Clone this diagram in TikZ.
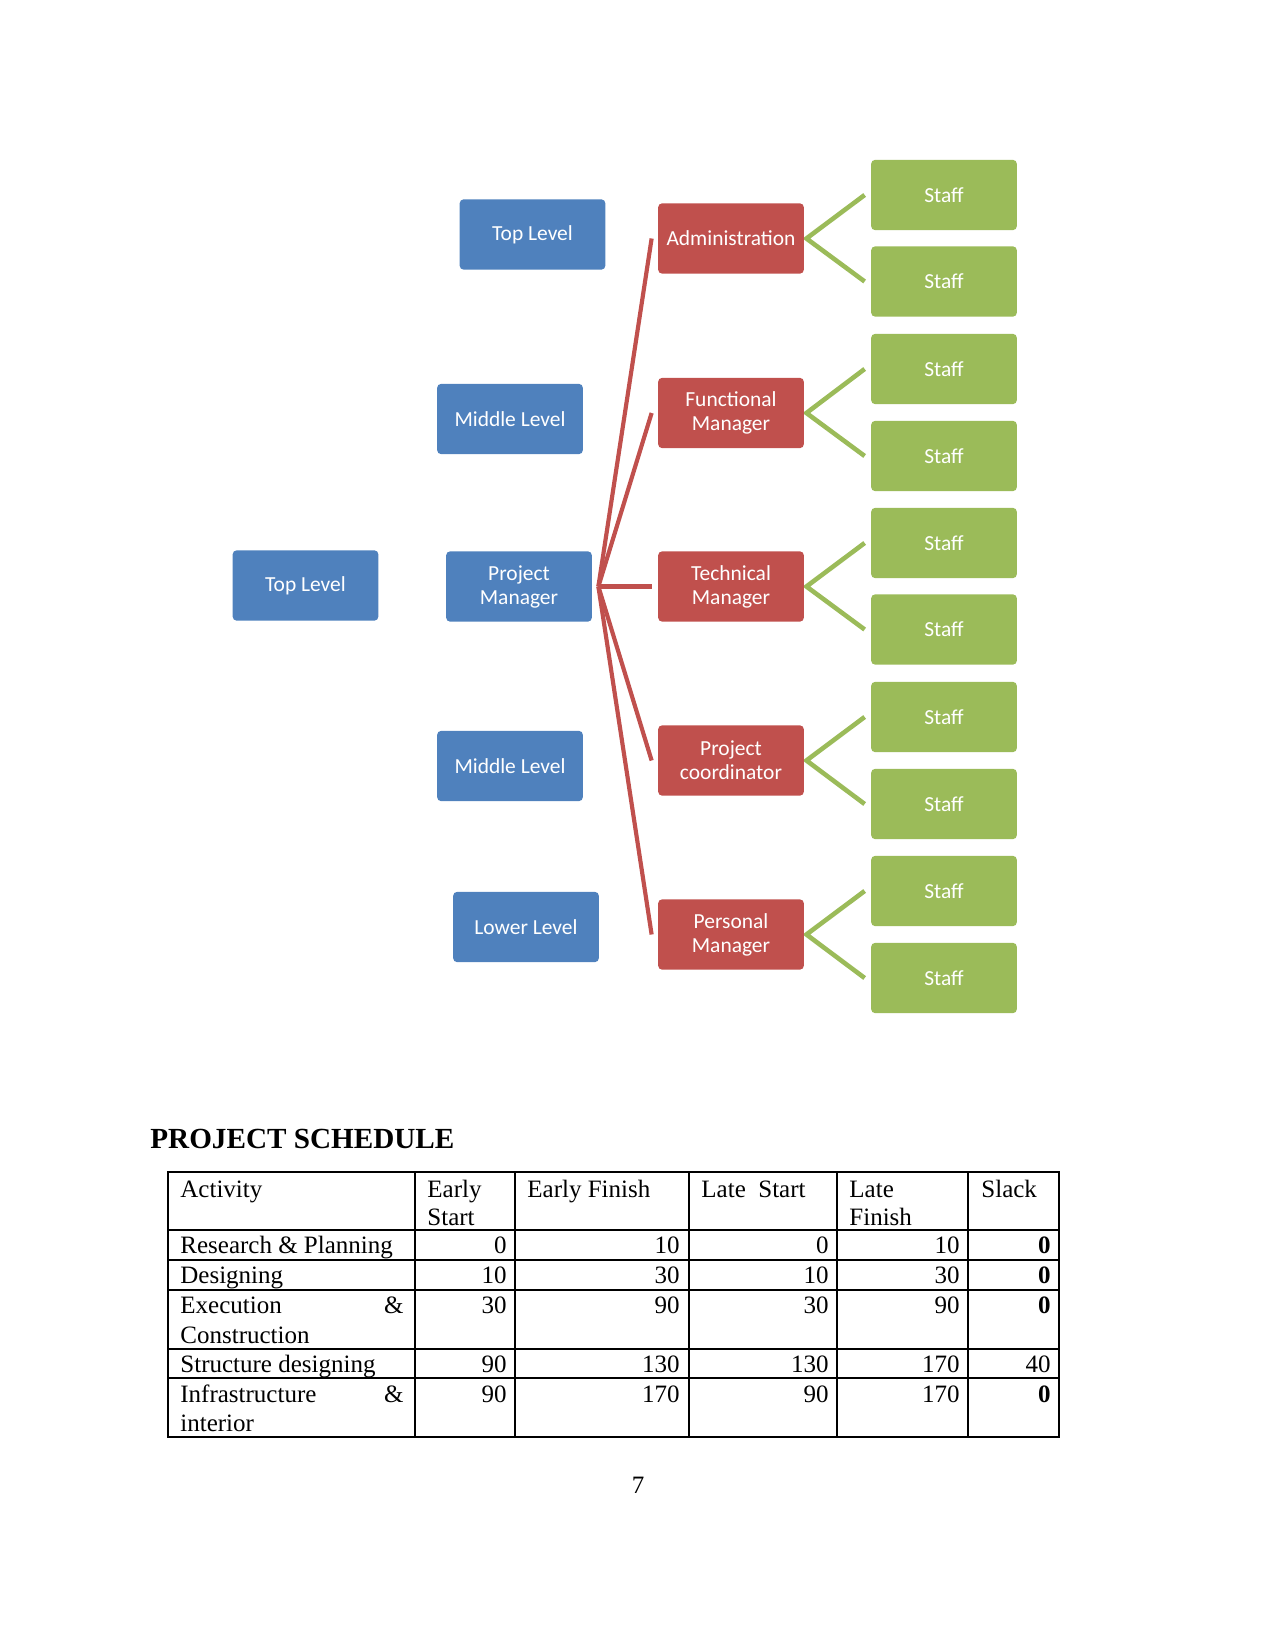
\documentclass[tikz,border=0pt]{standalone}
\usepackage{fontspec}
\setmainfont{Liberation Serif}
\newfontfamily\boxfont{Carlito}
\usetikzlibrary{backgrounds}
\definecolor{bbox}{RGB}{79,129,189}
\definecolor{rbox}{RGB}{192,80,77}
\definecolor{gbox}{RGB}{155,187,89}
\begin{document}
\begin{tikzpicture}[x=0.48pt,y=-0.48pt,
  box/.style={rectangle,rounded corners=2pt,minimum width=70pt,minimum height=33.8pt,inner sep=0pt,text=white,font=\boxfont\fontsize{10.3}{11.5}\selectfont,align=center},
  bluebox/.style={box,fill=bbox},
  redbox/.style={box,fill=rbox},
  greenbox/.style={box,fill=gbox},
  redline/.style={draw=rbox,line width=2pt},
  greenline/.style={draw=gbox,line width=2.2pt},
  cell/.style={inner sep=0pt,font=\fontsize{12}{13.8}\selectfont},
  grid/.style={line width=0.6pt}]
\useasboundingbox (0,0) rectangle (1275,1650);

% blue level boxes
\node[bluebox] (tl1) at (532.5,234.5) {Top Level};
\node[bluebox] (ml1) at (510,419) {Middle Level};
\node[bluebox] (tl2) at (305.5,585.5) {Top Level};
\node[bluebox] (pm)  at (519,586.5) {Project\\Manager};
\node[bluebox] (ml2) at (510,766) {Middle Level};
\node[bluebox] (ll)  at (526,927) {Lower Level};

% red boxes
\node[redbox] (adm)  at (731,238.5) {Administration};
\node[redbox] (fm)   at (731,413) {Functional\\Manager};
\node[redbox] (tm)   at (731,586.5) {Technical\\Manager};
\node[redbox] (pc)   at (731,760.5) {Project\\coordinator};
\node[redbox] (perm) at (731,934.5) {Personal\\Manager};

% green staff boxes
\node[greenbox] (s1)  at (944,195) {Staff};
\node[greenbox] (s2)  at (944,281.5) {Staff};
\node[greenbox] (s3)  at (944,369) {Staff};
\node[greenbox] (s4)  at (944,456) {Staff};
\node[greenbox] (s5)  at (944,543) {Staff};
\node[greenbox] (s6)  at (944,629.5) {Staff};
\node[greenbox] (s7)  at (944,717) {Staff};
\node[greenbox] (s8)  at (944,804) {Staff};
\node[greenbox] (s9)  at (944,891) {Staff};
\node[greenbox] (s10) at (944,978) {Staff};

\begin{scope}[on background layer]
  \foreach \r in {adm,fm,tm,pc,perm}
    \draw[redline] ([xshift=2.9pt]pm.east) -- ([xshift=-2.9pt]\r.west);
  \draw[greenline] ([xshift=-2.9pt]s1.west) -- ([xshift=1pt]adm.east) -- ([xshift=-2.9pt]s2.west);
  \draw[greenline] ([xshift=-2.9pt]s3.west) -- ([xshift=1pt]fm.east) -- ([xshift=-2.9pt]s4.west);
  \draw[greenline] ([xshift=-2.9pt]s5.west) -- ([xshift=1pt]tm.east) -- ([xshift=-2.9pt]s6.west);
  \draw[greenline] ([xshift=-2.9pt]s7.west) -- ([xshift=1pt]pc.east) -- ([xshift=-2.9pt]s8.west);
  \draw[greenline] ([xshift=-2.9pt]s9.west) -- ([xshift=1pt]perm.east) -- ([xshift=-2.9pt]s10.west);
\end{scope}

% heading
\node[inner sep=0pt,anchor=base west,font=\bfseries\fontsize{14}{16}\selectfont] (head) at (150,1148) {PROJECT SCHEDULE};

% table grid
\draw[grid] (168,1172) rectangle (1059,1437);
\foreach \xx in {415,515,689,837,968}
  \draw[grid] (\xx,1172) -- (\xx,1437);
\foreach \yy in {1230,1260,1290,1349,1378}
  \draw[grid] (168,\yy) -- (1059,\yy);

% header
\node[cell,anchor=base west] (h1) at (180,1197) {Activity};
\node[cell,anchor=base west] (h2a) at (427,1197) {Early};
\node[cell,anchor=base west] (h2b) at (427,1225) {Start};
\node[cell,anchor=base west] (h3) at (527,1197) {Early Finish};
\node[cell,anchor=base west] (h4) at (701,1197) {Late~~Start};
\node[cell,anchor=base west] (h5a) at (849,1197) {Late};
\node[cell,anchor=base west] (h5b) at (849,1225) {Finish};
\node[cell,anchor=base west] (h6) at (981,1197) {Slack};

% row 1
\node[cell,anchor=base west] (a1) at (180,1253) {Research \& Planning};
\node[cell,anchor=base east] (b1) at (507,1253) {0};
\node[cell,anchor=base east] (c1) at (680,1253) {10};
\node[cell,anchor=base east] (d1) at (829,1253) {0};
\node[cell,anchor=base east] (e1) at (960,1253) {10};
\node[cell,anchor=base east] (f1) at (1051,1253) {\textbf{0}};
% row 2
\node[cell,anchor=base west] (a2) at (180,1283) {Designing};
\node[cell,anchor=base east] (b2) at (507,1283) {10};
\node[cell,anchor=base east] (c2) at (680,1283) {30};
\node[cell,anchor=base east] (d2) at (829,1283) {10};
\node[cell,anchor=base east] (e2) at (960,1283) {30};
\node[cell,anchor=base east] (f2) at (1051,1283) {\textbf{0}};
% row 3
\node[cell,anchor=base west] (a3) at (180,1313) {Execution};
\node[cell,anchor=base east] (a3amp) at (404,1313) {\&};
\node[cell,anchor=base west] (a3b) at (180,1343) {Construction};
\node[cell,anchor=base east] (b3) at (507,1313) {30};
\node[cell,anchor=base east] (c3) at (680,1313) {90};
\node[cell,anchor=base east] (d3) at (829,1313) {30};
\node[cell,anchor=base east] (e3) at (960,1313) {90};
\node[cell,anchor=base east] (f3) at (1051,1313) {\textbf{0}};
% row 4
\node[cell,anchor=base west] (a4) at (180,1372) {Structure designing};
\node[cell,anchor=base east] (b4) at (507,1372) {90};
\node[cell,anchor=base east] (c4) at (680,1372) {130};
\node[cell,anchor=base east] (d4) at (829,1372) {130};
\node[cell,anchor=base east] (e4) at (960,1372) {170};
\node[cell,anchor=base east] (f4) at (1051,1372) {40};
% row 5
\node[cell,anchor=base west] (a5) at (180,1402) {Infrastructure};
\node[cell,anchor=base east] (a5amp) at (404,1402) {\&};
\node[cell,anchor=base west] (a5b) at (180,1431) {interior};
\node[cell,anchor=base east] (b5) at (507,1402) {90};
\node[cell,anchor=base east] (c5) at (680,1402) {170};
\node[cell,anchor=base east] (d5) at (829,1402) {90};
\node[cell,anchor=base east] (e5) at (960,1402) {170};
\node[cell,anchor=base east] (f5) at (1051,1402) {\textbf{0}};

% page number
\node[cell,anchor=base] (pg) at (638,1493) {7};
\end{tikzpicture}
\end{document}
